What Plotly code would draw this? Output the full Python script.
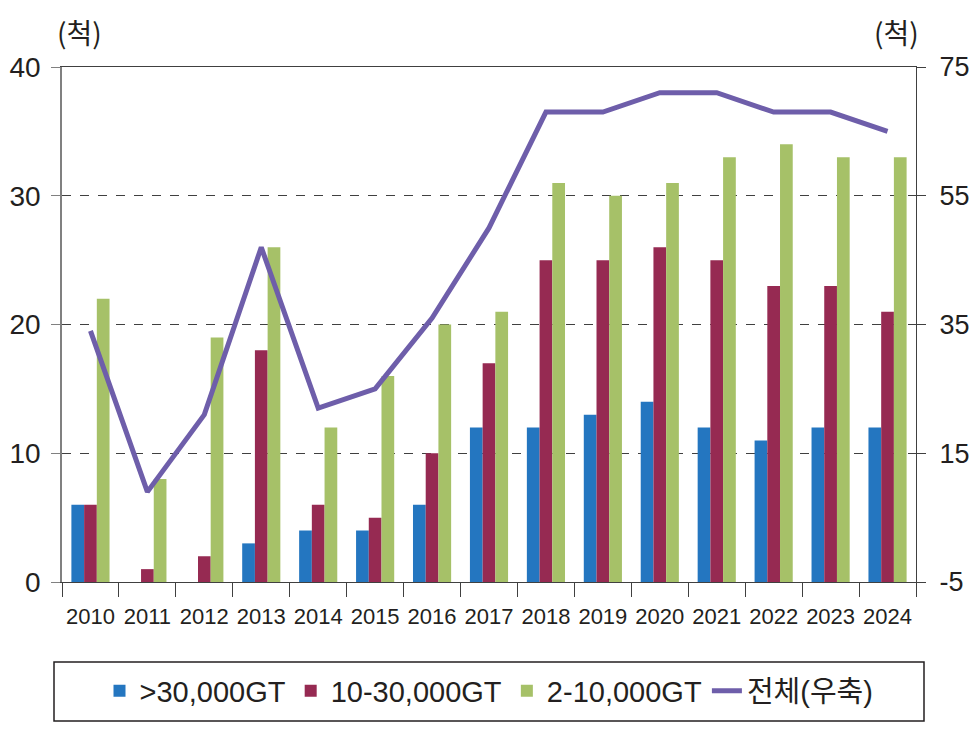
import plotly.graph_objects as go

years = [str(y) for y in range(2010, 2025)]
over30k = [6, 0, 0, 3, 4, 4, 6, 12, 12, 13, 14, 12, 11, 12, 12]
mid10_30k = [6, 1, 2, 18, 6, 5, 10, 17, 25, 25, 26, 25, 23, 23, 21]
small2_10k = [22, 8, 19, 26, 12, 16, 20, 21, 31, 30, 31, 33, 34, 33, 33]
total = [34, 9, 21, 47, 22, 25, 36, 50, 68, 68, 71, 71, 68, 68, 65]

left_ticks = [0, 10, 20, 30, 40]
right_ticks = [-5, 15, 35, 55, 75]
right_labels = ["-5", "15", "35", "55", "75"]

names = [">30,000GT", "10-30,000GT", "2-10,000GT", "전체(우축)"]
colors = ["#2476C0", "#962A52", "#A6C168", "#6E5EAA"]

LAT = "Liberation Sans, Arial, Noto Sans CJK KR, sans-serif"
KR = "Noto Sans CJK KR, sans-serif"
TXT = "#231F20"

fig = go.Figure()
for vals, nm, col in zip([over30k, mid10_30k, small2_10k], names[:3], colors[:3]):
    fig.add_trace(go.Bar(x=years, y=vals, name=nm, marker=dict(color=col, line=dict(width=0)),
                         yaxis="y"))
fig.add_trace(go.Scatter(x=years, y=total, name=names[3], mode="lines",
                         line=dict(color=colors[3], width=5), yaxis="y2"))

W, H = 971, 730
L, R, T, B = 62, 55, 67, 148
pw, ph = W - L - R, H - T - B

def px(x):
    return (x - L) / pw

def py(y):
    return (H - B - y) / ph

fig.update_layout(
    width=W, height=H,
    margin=dict(l=L, r=R, t=T, b=B, autoexpand=False),
    paper_bgcolor="white", plot_bgcolor="white",
    barmode="group", bargap=0.33, bargroupgap=0,
    font=dict(family=LAT, color=TXT),
    showlegend=True,
    legend=dict(orientation="h", x=0.5, xanchor="center", y=py(691), yanchor="middle",
                font=dict(family=LAT, size=29, color=TXT),
                bgcolor="rgba(0,0,0,0)", borderwidth=0, traceorder="normal",
                itemwidth=30, tracegroupgap=0),
    xaxis=dict(type="category", showline=True, linecolor="#404040", linewidth=1.3,
               mirror=True, ticks="outside", tickson="boundaries", ticklen=14,
               tickcolor="#404040", tickwidth=1.3, showgrid=False, tickangle=0,
               ticklabelstandoff=14,
               tickfont=dict(family=LAT, size=22, color=TXT)),
    yaxis=dict(range=[0, 40], tickmode="array", tickvals=left_ticks,
               showline=True, linecolor="#808080", linewidth=1.5,
               ticks="outside", ticklen=9, tickcolor="#808080", tickwidth=1.3,
               showgrid=True, gridcolor="#404040", gridwidth=1.2, griddash="dash",
               zeroline=False, ticklabelstandoff=5,
               tickfont=dict(family=LAT, size=28, color=TXT)),
    yaxis2=dict(range=[-5, 75], tickmode="array", tickvals=right_ticks, ticktext=right_labels,
                overlaying="y", side="right", showline=True, linecolor="#404040",
                linewidth=1.3, ticks="outside", ticklen=9, tickcolor="#404040",
                tickwidth=1.3, showgrid=False, zeroline=False, ticklabelstandoff=8,
                tickfont=dict(family=LAT, size=27, color=TXT)),
    shapes=[dict(type="rect", xref="paper", yref="paper",
                 x0=px(54), x1=px(924), y0=py(721), y1=py(662),
                 line=dict(color="#231F20", width=1.5), fillcolor="rgba(0,0,0,0)")],
    annotations=[
        dict(text="(척)", xref="paper", yref="paper", x=px(79), y=py(32),
             xanchor="center", yanchor="middle", showarrow=False,
             font=dict(family=KR, size=28, color=TXT)),
        dict(text="(척)", xref="paper", yref="paper", x=px(896), y=py(32),
             xanchor="center", yanchor="middle", showarrow=False,
             font=dict(family=KR, size=28, color=TXT)),
    ],
)

fig.write_html("out.html", config={"displayModeBar": False},
               post_script="document.body.style.margin='0';document.body.style.padding='0';")
